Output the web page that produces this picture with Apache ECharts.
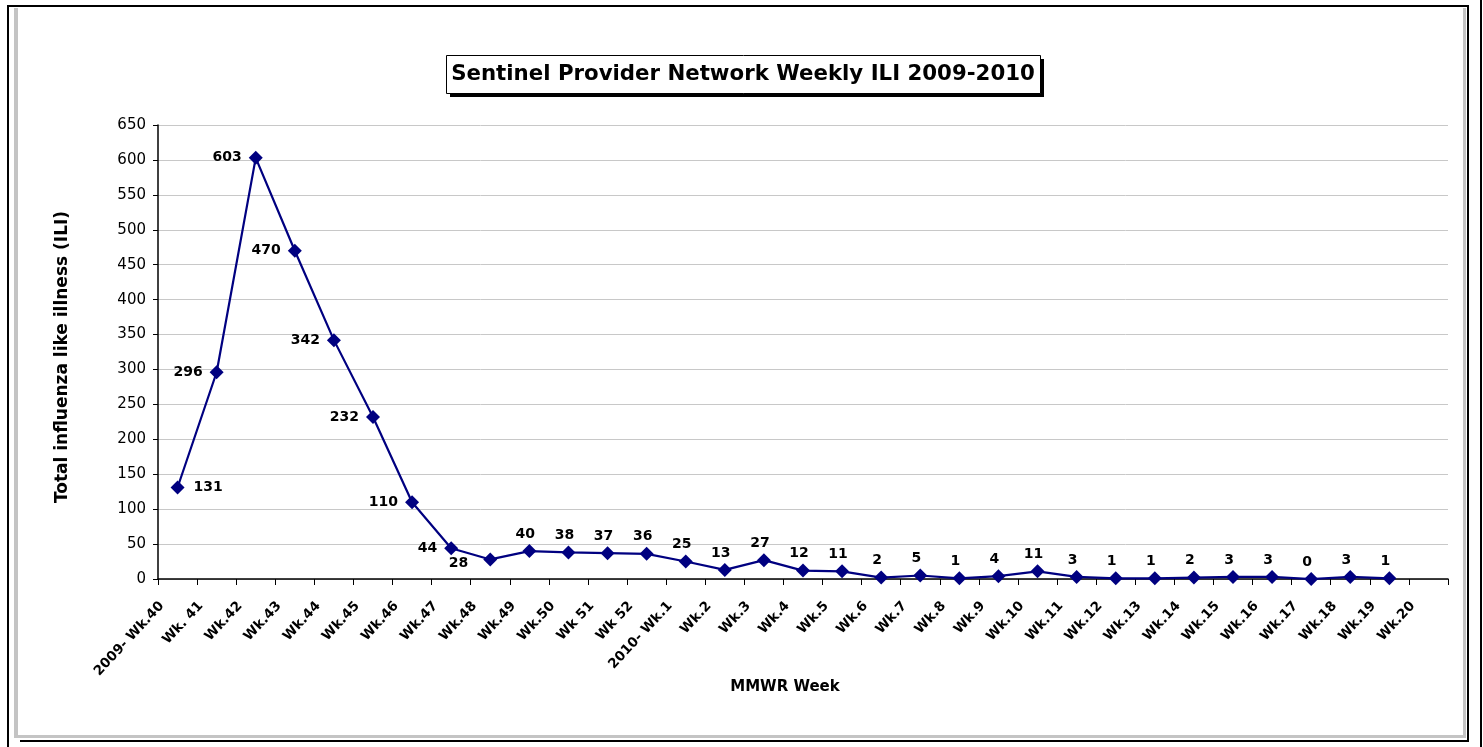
<!DOCTYPE html>
<html>
<head>
<meta charset="utf-8">
<title>Sentinel Provider Network Weekly ILI 2009-2010</title>
<script src="https://cdn.jsdelivr.net/npm/echarts@6/dist/echarts.min.js"></script>
<style>
  html, body { margin: 0; padding: 0; background: #fff; }
  #myChart { width: 1483px; height: 747px; }
</style>
</head>
<body>
<div id="myChart"></div>
<script>
// weeks on the x axis (Wk.20 has no value yet)
const weeks = [
  "2009- Wk.40", "Wk. 41", "Wk.42", "Wk.43", "Wk.44", "Wk.45", "Wk.46", "Wk.47",
  "Wk.48", "Wk.49", "Wk.50", "Wk 51", "Wk 52", "2010- Wk.1", "Wk.2", "Wk.3",
  "Wk.4", "Wk.5", "Wk.6", "Wk.7", "Wk.8", "Wk.9", "Wk.10", "Wk.11", "Wk.12",
  "Wk.13", "Wk.14", "Wk.15", "Wk.16", "Wk.17", "Wk.18", "Wk.19", "Wk.20",
];
// total ILI per week
const iliCounts = [
  131, 296, 603, 470, 342, 232, 110, 44, 28, 40, 38, 37, 36, 25, 13, 27,
  12, 11, 2, 5, 1, 4, 11, 3, 1, 1, 2, 3, 3, 0, 3, 1,
];
const yTicks = { min: 0, max: 650, step: 50 };

const titleText = "Sentinel Provider Network Weekly ILI 2009-2010";
const yName = "Total influenza like illness (ILI)";
const xName = "MMWR Week";

const font = "DejaVu Sans";
const navy = "#000080";

// where the value labels sit, like in the original sheet
const labelFor = (i) => {
  if (i === 0) return { position: "right", distance: 9 };
  if (i === 8) return { position: "left", distance: 15, offset: [0, 4] };
  if (i < 8) return { position: "left", distance: 7 };
  return { position: "top", distance: 3, offset: [-4, 0] };
};

const myChart = echarts.init(document.getElementById("myChart"));

const option = {
  backgroundColor: "#fff",
  animation: false,
  grid: {
    left: 158,
    right: 35,
    top: 125,
    bottom: 168,
  },
  xAxis: {
    type: "category",
    data: weeks,
    boundaryGap: true,
    axisLine: { lineStyle: { color: "#000", width: 1.5 } },
    axisTick: { show: true, length: 6, lineStyle: { color: "#000" } },
    axisLabel: {
      interval: 0,
      rotate: 47,
      margin: 8,
      padding: [0, 23, 0, 0],
      fontFamily: font,
      fontWeight: "bold",
      fontSize: 13.5,
      color: "#000",
    },
  },
  yAxis: {
    type: "value",
    min: yTicks.min,
    max: yTicks.max,
    interval: yTicks.step,
    axisLine: { show: true, lineStyle: { color: "#000", width: 1.5 } },
    axisTick: { show: true, length: 5, lineStyle: { color: "#000" } },
    axisLabel: {
      margin: 12,
      fontFamily: font,
      fontSize: 15,
      color: "#000",
    },
    splitLine: { lineStyle: { color: "#c8c8c8", width: 1 } },
  },
  series: [
    {
      type: "line",
      data: iliCounts.map((v, i) => ({ value: v, label: labelFor(i) })),
      symbol: "diamond",
      symbolSize: 14,
      lineStyle: { color: navy, width: 2.2 },
      itemStyle: { color: navy },
      label: {
        show: true,
        fontFamily: font,
        fontWeight: "bold",
        fontSize: 14,
        color: "#000",
      },
    },
  ],
  graphic: [
    // frame around the chart area
    { type: "rect", shape: { x: 14, y: 8, width: 4, height: 729 }, style: { fill: "#c4c4c4" } },
    { type: "rect", shape: { x: 14, y: 735, width: 1452, height: 3 }, style: { fill: "#c4c4c4" } },
    { type: "rect", shape: { x: 1463, y: 8, width: 3, height: 729 }, style: { fill: "#c4c4c4" } },
    { type: "line", shape: { x1: 7, y1: 6, x2: 1469, y2: 6 }, style: { stroke: "#000", lineWidth: 2 } },
    { type: "line", shape: { x1: 8, y1: 5, x2: 8, y2: 747 }, style: { stroke: "#000", lineWidth: 2 } },
    { type: "line", shape: { x1: 1468, y1: 5, x2: 1468, y2: 742 }, style: { stroke: "#000", lineWidth: 2 } },
    { type: "line", shape: { x1: 20, y1: 741, x2: 1469, y2: 741 }, style: { stroke: "#000", lineWidth: 2 } },
    { type: "line", shape: { x1: 1481, y1: 0, x2: 1481, y2: 747 }, style: { stroke: "#000", lineWidth: 2 } },
    // title box with its drop shadow
    { type: "rect", shape: { x: 450, y: 59, width: 594, height: 38 }, style: { fill: "#000" } },
    { type: "rect", shape: { x: 446.5, y: 55.5, width: 594, height: 38 }, style: { fill: "#fff", stroke: "#000", lineWidth: 1 } },
    {
      type: "text",
      x: 743,
      y: 74.5,
      style: {
        text: titleText,
        fontFamily: font,
        fontWeight: "bold",
        fontSize: 21.3,
        fill: "#000",
        textAlign: "center",
        textVerticalAlign: "middle",
      },
    },
    // axis titles
    {
      type: "text",
      x: 63,
      y: 357,
      rotation: Math.PI / 2,
      style: {
        text: yName,
        fontFamily: font,
        fontWeight: "bold",
        fontSize: 17,
        fill: "#000",
        textAlign: "center",
        textVerticalAlign: "middle",
      },
    },
    {
      type: "text",
      x: 785,
      y: 687,
      style: {
        text: xName,
        fontFamily: font,
        fontWeight: "bold",
        fontSize: 15,
        fill: "#000",
        textAlign: "center",
        textVerticalAlign: "middle",
      },
    },
  ],
};

option && myChart.setOption(option);
</script>
</body>
</html>
